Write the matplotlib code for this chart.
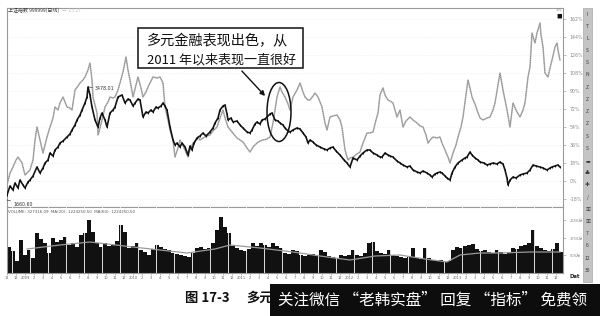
import matplotlib
matplotlib.use("Agg")
import matplotlib.pyplot as plt
from matplotlib.patches import Ellipse, Rectangle
import numpy as np

plt.rcParams['font.family'] = ['DejaVu Sans']
CJK = ['Noto Sans CJK SC', 'DejaVu Sans']

# ---------------- data ----------------
# sample index (one sample ~ 2.3 trading days, 9 samples per month, start Nov 2008)
black_t = [0,3,6,8,11,13,16,18,21,23, 26,30,33,36,38,41,43,46,48,51,
           53,56,60,63,65,68,70,73,75,78, 80,81,83,85,88,91,93,95,98,100,
           103,106,108,111,115,118,121,123,126,128, 131,133,136,139,141,144,146,149,151,154,
           156,158,160,163,166,168,170,173,175,178, 181,183,185,187,190,193,196,199,203,206,
           208,211,213,216,218,220,221,224,226,230, 233,236,240,243,245,248,250,253,255,258,
           260,263,265,268,271,273,276,278,281,283, 286,290,293,296,299,301,303,306,309,313,
           317,320,323,326,329,333,337,340,343,346, 350,353,356,360,363,366,370,373,375,378,
           381,383,386,390,393,396,400,403,406,410, 413,416,420,423,425,428,430,433,435,438,
           440,443,445,448,451,455,458,460,463,465, 468,471,473,477,480,483,486,490,493,496,
           498,500,501,503,506,509,513,516,520,523, 526,529,533,536,540,543,545,548,551,553]
# Shanghai Composite, % change (black line)
black_pct = [-14,-5,-9,-2,-7,1,-4,-7,-1,1, 5,14,8,13,18,21,28,25,31,34,
             38,40,44,47,51,56,61,66,71,78, 84,94,86,74,61,54,63,68,61,54,
             68,71,74,84,86,78,82,81,75,78, 82,81,64,69,68,71,69,74,73,75,
             78,75,71,54,41,36,38,34,38,34, 26,35,31,38,43,45,48,45,49,53,
             58,63,71,75,76,67,61,63,59,60, 56,53,49,48,51,57,59,57,61,62,
             64,67,68,61,60,58,56,53,50,49, 51,53,52,48,44,38,41,39,36,34,
             32,31,33,34,30,26,21,18,14,23, 21,25,28,31,31,28,26,24,24,28,
             26,25,24,20,18,16,14,15,11,9, 8,10,8,6,4,7,8,9,8,5,
             3,1,8,14,18,21,23,24,29,26, 23,21,19,18,16,17,18,17,19,17,
             11,3,-4,1,4,3,6,7,8,11, 16,15,14,13,11,13,14,15,16,14]

gray_t = [0,3,6,9,11,13,15,18,21,23, 26,28,30,33,36,38,40,43,46,48,
          51,53,56,58,60,63,65,68,71,73, 76,78,81,83,85,86,88,90,91,93,
          95,98,101,103,106,108,111,113,116,119, 121,123,126,129,131,134,136,139,141,143,
          146,150,153,156,158,161,163,166,168,171, 173,176,178,181,183,186,188,191,193,196,
          200,203,206,210,213,216,218,221,225,230, 233,236,240,243,246,250,253,256,260,263,
          266,268,270,273,275,278,281,283,286,290, 293,296,298,301,303,306,308,311,315,318,
          320,323,326,330,333,335,338,341,343,346, 350,353,356,360,363,366,369,371,373,375,
          376,378,381,383,386,388,390,393,396,399, 403,406,410,413,416,419,421,424,426,430,
          433,435,438,441,443,446,449,451,454,456, 459,461,463,465,468,470,473,476,480,483,
          486,488,491,493,496,498,500,503,506,509, 513,516,518,521,523,525,528,530,533,534,
          536,538,541,543,545,548,550,551,553]
# diversified financials sector, % change (grey line)
gray_pct = [-4,8,14,21,24,21,18,6,9,11, 21,41,54,41,28,36,44,54,63,74,
            71,78,84,79,74,73,71,91,95,98, 101,104,111,118,101,84,76,68,46,53,
            61,74,79,84,83,84,91,98,109,124, 111,101,84,96,104,93,84,89,94,98,
            104,103,104,98,74,61,51,41,24,33, 41,35,31,24,31,38,39,44,41,43,
            45,46,50,54,63,71,63,54,49,43, 41,39,33,29,34,38,40,41,42,44,
            58,71,84,94,89,84,77,71,84,91, 98,89,84,81,81,85,88,84,74,58,
            51,64,65,66,61,54,31,21,23,24, 27,29,38,48,48,49,61,68,86,91,
            93,86,81,80,78,71,64,71,54,60, 64,61,58,55,54,46,38,42,44,43,
            44,38,31,24,18,28,36,44,54,64, 86,101,93,84,77,71,63,61,63,64,
            71,78,96,108,91,81,71,54,78,71, 64,71,78,104,114,148,138,148,158,146,
            134,108,104,113,121,134,138,131,121]

# volume (one bar per 4 samples)
volume = [26,22,12,33,18,23,15,40,34,30, 20,35,31,33,36,28,30,26,38,40,
          53,41,30,26,30,27,28,32,48,41, 25,27,30,23,21,18,24,28,26,24,
          23,20,19,18,17,16,20,25,26,24, 25,30,43,56,46,40,27,25,23,22,
          24,30,27,30,28,26,30,27,25,20, 19,23,22,18,17,18,19,17,23,21,
          17,16,15,18,17,18,23,18,17,20, 30,31,22,20,19,23,18,17,16,15,
          16,25,15,14,25,15,13,12,13,11, 12,23,26,25,27,28,29,24,22,23,
          21,20,23,21,19,21,25,24,27,28, 30,43,27,25,23,22,24,30,21]
ma_t = [20,53,83,126,153,180,208,223,253,286,313,343,368,393,418,440,453,473,493,523,553]
ma_val = [24,28,31,26,23,20,24,28,25,21,17,13,17,18,14,11,18,20,20,21,21]

price_ticks = [-18,0,18,36,54,72,90,108,126,144,162]
vol_ticks = [18,35,53]
vol_tick_labels = ["900万", "1750万", "2650万"]
years = [2008,2009,2010,2011,2012,2013,2014]

# ---------------- figure ----------------
W, H = 600, 316
fig = plt.figure(figsize=(W/100, H/100), dpi=100)
fig.patch.set_facecolor('white')

def fx(px): return px / W
def fy(py): return 1 - py / H

ax = fig.add_axes([fx(7), fy(207), fx(556), 199/H])
axv = fig.add_axes([fx(7), fy(273), fx(556), 66/H])

XMAX = 556
for a in (ax, axv):
    a.set_xlim(0, XMAX)
    for s in a.spines.values():
        s.set_color('#9a9a9a')
        s.set_linewidth(0.8)

ax.set_ylim(-26, 173)
ax.yaxis.tick_right()
ax.set_yticks(price_ticks)
ax.set_yticklabels([f"{v}%" for v in price_ticks], fontsize=3.4, color='#8a8a8a')
ax.tick_params(axis='y', length=2, width=0.5, color='#aaaaaa', pad=3)
ax.set_xticks([])
for v in price_ticks:
    ax.axhline(v, color='#efefef', lw=0.5, ls=(0, (2, 2)), zorder=0)

ax.plot(gray_t, gray_pct, color='#b0b0b0', lw=1.1, zorder=2)
ax.plot(gray_t, gray_pct, color='#6e6e6e', lw=0.5, zorder=2, ls=(0, (1, 2)))
ax.plot(black_t, black_pct, color='#161616', lw=1.2, zorder=3)
ax.plot(black_t, black_pct, color='#000000', lw=0.5, zorder=3, ls='none',
        marker='|', markersize=1.8, markeredgewidth=0.6)

# peak & start labels
bp = np.array(black_pct[:60])
ip = int(np.argmax(bp))
ax.annotate("3478.01", xy=(black_t[ip], black_pct[ip]), xytext=(5, -1), textcoords='offset points',
            fontsize=3.4, color='#333333', va='center',
            arrowprops=dict(arrowstyle='-', color='#333333', lw=0.5, shrinkA=0, shrinkB=0))
ax.annotate("1660.60", xy=(black_t[0], black_pct[0] - 5), xytext=(4.5, -3), textcoords='offset points',
            fontsize=3.4, color='#333333', va='center',
            arrowprops=dict(arrowstyle='-', color='#333333', lw=0.5, shrinkA=0, shrinkB=0))

# oval and annotation
ax.add_patch(Ellipse((272, 69), 24, 59, fill=False, ec='#111111', lw=1.1, zorder=5))
ax.add_patch(Rectangle((131, 113), 165, 40, fc='white', ec='#111111', lw=1.1, zorder=6))
ax.text(140, 140, "多元金融表现出色，从", family=CJK, fontsize=10.2, color='#111111',
        va='center', ha='left', zorder=7)
ax.text(140, 121.5, "2011 年以来表现一直很好", family=CJK, fontsize=9.4, color='#111111',
        va='center', ha='left', zorder=7)
ax.annotate("", xy=(260, 83), xytext=(233, 112),
            arrowprops=dict(arrowstyle='-|>', color='#111111', lw=1.0, mutation_scale=7), zorder=6)

# volume panel
axv.set_ylim(0, 66)
vx = np.arange(len(volume)) * 4 + 2
axv.bar(vx, volume, width=3.6, color='#111111', lw=0, zorder=2)
for m in range(0, XMAX, 18):
    axv.axvline(m + 5, color='white', lw=0.6, zorder=3)
axv.plot(ma_t, ma_val, color='#9a9a9a', lw=0.9, zorder=4)
axv.yaxis.tick_right()
axv.set_yticks(vol_ticks)
axv.set_yticklabels(vol_tick_labels, fontsize=3.0, color='#8a8a8a', family=CJK)
axv.tick_params(axis='y', length=2, width=0.5, color='#aaaaaa', pad=3)

# date strip labels (monthly)
month_pos, month_lab = [], []
k = 0
for y in years:
    for mth in range(1, 13):
        if (y == 2008 and mth < 11):
            continue
        pos = k * 9
        k += 1
        if pos > XMAX - 4:
            continue
        month_pos.append(pos)
        month_lab.append(str(y) if mth == 1 else str(mth))
axv.set_xticks(month_pos)
axv.set_xticklabels(month_lab, fontsize=2.6, color='#666666')
axv.tick_params(axis='x', length=1.5, width=0.4, color='#888888', pad=0.6)

# header texts
fig.text(fx(8), fy(10.5), "上证指数 999999(日线)", family=CJK, fontsize=3.6, color='#333333', va='center')
fig.text(fx(62), fy(10.5), "一  1.5.27", family=CJK, fontsize=3.2, color='#bbbbbb', va='center')
fig.text(fx(8), fy(212), "VOLUME: 327316.09  MA(20): 1224250.50  MA(60): 1224250.50",
         fontsize=2.9, color='#555555', va='center')
fig.text(fx(556), fy(10), "1%", fontsize=3, color='#888888', va='center')
fig.text(fx(556), fy(16), "■", family=CJK, fontsize=4, color='#111111', va='center')
fig.text(fx(569), fy(277), "Dat", fontsize=3.8, color='#222222', va='center', fontweight='bold')

# toolbar
fig.patches.append(Rectangle((fx(583), fy(282)), fx(9), 274/H, transform=fig.transFigure,
                             fc='#c4c4c4', ec='#9a9a9a', lw=0.4))
icons = ["I", "T", "L", "S", "S", "N", "Z", "Z", "Z", "Z", "S", "S", "▬", "♣", "✚", "/",
         "▣", "▣", "7", "6", "12", "30"]
for i, g in enumerate(icons):
    fig.text(fx(587.5), fy(14 + i * 12.2), g, family=CJK, fontsize=3.6, color='#3a3a3a',
             ha='center', va='center')

# caption + banner
fig.text(fx(185), fy(298), "图 17-3", family=CJK, fontsize=9.6, fontweight='bold',
         color='#111111', va='center')
fig.text(fx(246), fy(298), "多元", family=CJK, fontsize=9.6, fontweight='bold',
         color='#111111', va='center')
fig.patches.append(Rectangle((fx(270), 0), fx(330), 32/H, transform=fig.transFigure,
                             fc='#0d0d0d', ec='none', zorder=10))
fig.text(fx(278), fy(300), "关注微信 “老韩实盘” 回复 “指标” 免费领", family=CJK,
         fontsize=11.2, color='white', va='center', ha='left', zorder=11)

fig.savefig("out.png", dpi=100, facecolor='white')
